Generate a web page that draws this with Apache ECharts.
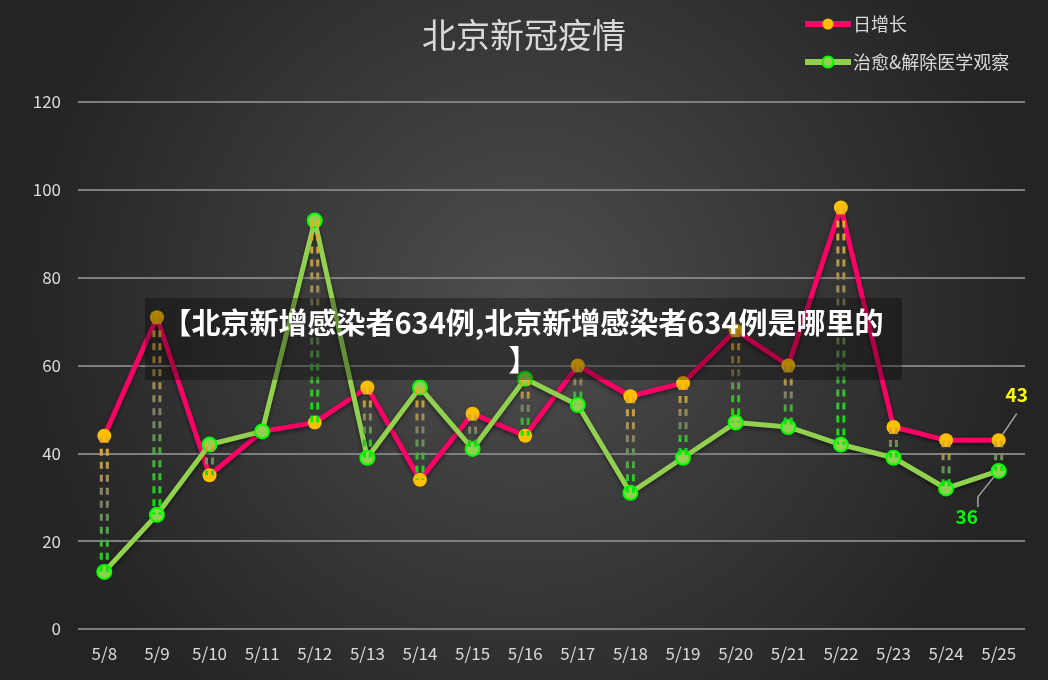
<!DOCTYPE html>
<html>
<head>
<meta charset="utf-8">
<script src="https://cdn.jsdelivr.net/npm/echarts@6/dist/echarts.min.js"></script>
<style>
  html, body { margin: 0; padding: 0; }
  #chart { width: 1048px; height: 680px; }
</style>
</head>
<body>
<div id="chart"></div>
<script>
// 北京新冠疫情 - 日增长 vs 治愈&解除医学观察
var days = ['5/8', '5/9', '5/10', '5/11', '5/12', '5/13', '5/14', '5/15', '5/16',
            '5/17', '5/18', '5/19', '5/20', '5/21', '5/22', '5/23', '5/24', '5/25'];
var dailyNew = [44, 71, 35, 45, 47, 55, 34, 49, 44, 60, 53, 56, 68, 60, 96, 46, 43, 43];
var recovered = [13, 26, 42, 45, 93, 39, 55, 41, 57, 51, 31, 39, 47, 46, 42, 39, 32, 36];
var yTicks = [0, 20, 40, 60, 80, 100, 120];
var bannerText = '【北京新增感染者634例,北京新增感染者634例是哪里的\n】';

var FONT = '"Noto Sans CJK SC", "Noto Sans", sans-serif';
var RED = '#ff0066';
var GOLD = '#ffc000';
var LGREEN = '#92d050';
var BGREEN = '#00ff00';

var chart = echarts.init(document.getElementById('chart'));

// last point gets the callout labels
var redData = dailyNew.map(function (v, i) {
  if (i === dailyNew.length - 1) {
    return {
      value: v,
      label: {
        show: true, position: 'top', offset: [18, -24],
        color: '#ffff00', fontSize: 19, fontWeight: 'bold', fontFamily: FONT
      },
      labelLine: { show: true, lineStyle: { color: '#a6a6a6', width: 1.5 } }
    };
  }
  return v;
});
var greenData = recovered.map(function (v, i) {
  if (i === recovered.length - 1) {
    return {
      value: v,
      label: {
        show: true, position: 'bottom', offset: [-32, 23],
        color: BGREEN, fontSize: 19, fontWeight: 'bold', fontFamily: FONT
      },
      labelLine: { show: true, length2: 10, lineStyle: { color: '#a6a6a6', width: 1.5 } }
    };
  }
  return v;
});
var hiLo = days.map(function (d, i) { return [i, dailyNew[i], recovered[i]]; });

var option = {
  backgroundColor: new echarts.graphic.RadialGradient(0.5, 0.45, 0.75, [
    { offset: 0, color: '#4e4e4e' },
    { offset: 1, color: '#242424' }
  ]),
  textStyle: { fontFamily: FONT },
  title: {
    text: '北京新冠疫情',
    left: 'center',
    top: 13,
    textStyle: { color: '#d9d9d9', fontSize: 34, fontWeight: 'normal', fontFamily: FONT }
  },
  legend: {
    orient: 'vertical',
    left: 797,
    top: 10,
    itemWidth: 46,
    itemHeight: 14,
    itemGap: 20,
    lineStyle: { width: 6 },
    textStyle: { color: '#d9d9d9', fontSize: 18, fontFamily: FONT, padding: [0, 0, 0, -3] },
    data: ['日增长', '治愈&解除医学观察']
  },
  grid: { left: 78, right: 23, top: 102, bottom: 51 },
  xAxis: {
    type: 'category',
    data: days,
    axisTick: { show: false },
    axisLine: { show: false },
    axisLabel: { color: '#d9d9d9', fontSize: 17, margin: 16, fontFamily: FONT }
  },
  yAxis: {
    type: 'value',
    min: yTicks[0],
    max: yTicks[yTicks.length - 1],
    interval: 20,
    axisLine: { show: false },
    axisTick: { show: false },
    axisLabel: { color: '#d9d9d9', fontSize: 17, margin: 17, fontFamily: FONT },
    splitLine: { lineStyle: { color: '#7f7f7f', width: 2 } }
  },
  series: [{
    name: '日增长',
    type: 'line',
    data: redData,
    symbol: 'circle',
    symbolSize: 14,
    lineStyle: { color: RED, width: 5, shadowBlur: 4, shadowColor: 'rgba(0,0,0,0.5)', shadowOffsetY: 2 },
    itemStyle: { color: GOLD, borderWidth: 0 },
    z: 3
  }, {
    name: '治愈&解除医学观察',
    type: 'line',
    data: greenData,
    symbol: 'circle',
    symbolSize: 14,
    lineStyle: { color: LGREEN, width: 5, shadowBlur: 4, shadowColor: 'rgba(0,0,0,0.5)', shadowOffsetY: 2 },
    itemStyle: { color: LGREEN, borderColor: BGREEN, borderWidth: 2 },
    z: 4
  }, {
    // high-low dashed connectors
    type: 'custom',
    data: hiLo,
    z: 6,
    silent: true,
    renderItem: function (params, api) {
      var a = api.coord([api.value(0), api.value(1)]);
      var b = api.coord([api.value(0), api.value(2)]);
      var top = Math.min(a[1], b[1]);
      var bot = Math.max(a[1], b[1]);
      var x = a[0];
      var grad = new echarts.graphic.LinearGradient(0, top, 0, bot, [
        { offset: 0, color: '#f0b020' },
        { offset: 0.5, color: '#7d7d6a' },
        { offset: 1, color: '#00ee00' }
      ], true);
      var style = { stroke: grad, lineWidth: 3, lineDash: [7, 6], fill: null };
      return {
        type: 'group',
        children: [
          { type: 'line', shape: { x1: x - 3, y1: top, x2: x - 3, y2: bot }, style: style },
          { type: 'line', shape: { x1: x + 3, y1: top, x2: x + 3, y2: bot }, style: style }
        ]
      };
    }
  }],
  graphic: [{
    type: 'rect',
    left: 145,
    top: 298,
    shape: { width: 757, height: 82 },
    style: { fill: 'rgba(0,0,0,0.32)' },
    z: 100
  }, {
    type: 'text',
    x: 523,
    y: 304,
    style: {
      text: bannerText,
      fill: '#ffffff',
      font: 'bold 29px ' + FONT,
      align: 'center',
      verticalAlign: 'top',
      lineHeight: 37
    },
    z: 101
  }]
};

chart.setOption(option);
</script>
</body>
</html>
